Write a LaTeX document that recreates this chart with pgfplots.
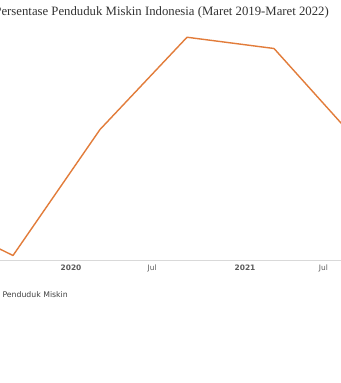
\documentclass[border=0pt]{standalone}
\usepackage{pgfplots}
\pgfplotsset{compat=1.18}
\usepackage{fontspec}
\setmainfont{Liberation Serif}
\newfontfamily\uisans{DejaVu Sans}
\definecolor{lineor}{RGB}{226,124,58}
\definecolor{gridc}{RGB}{225,225,225}
\definecolor{tickc}{RGB}{90,90,90}
\begin{document}
\begin{tikzpicture}[x=1bp,y=1bp]
\useasboundingbox (0,0) rectangle (341,383);
\fill[white] (0,0) rectangle (341,383);
\node[anchor=east,inner sep=0pt,font=\fontsize{12.8}{14}\selectfont,text=black!80] at (329,371) {Persentase Penduduk Miskin Indonesia (Maret 2019-Maret 2022)};
\begin{axis}[
  at={(0bp,123bp)}, anchor=south west,
  width=341bp, height=225bp, scale only axis,
  xmin=7.103, xmax=30.62,
  ymin=9.2, ymax=10.2,
  axis y line=none,
  axis x line=bottom,
  x axis line style={draw=black!15,-},
  xtick={12,17.6,24,29.4},
  xticklabels={\textbf{2020},Jul,\textbf{2021},Jul},
  xticklabel style={font=\uisans\fontsize{7.5}{9}\selectfont, text=tickc, yshift=-1bp},
  major tick length=0pt,
  ytick={9.2,9.4,9.6,9.8,10.0,10.2},
  ymajorgrids, major grid style={draw=gridc, line width=0.7bp},
  clip=true,
]
\addplot[color=lineor, line width=1.4bp, line join=round] coordinates {
  (2,9.41) (8,9.22) (14,9.78) (20,10.19) (26,10.14) (32,9.71) (38,9.54)
};
\end{axis}
\node[anchor=east,inner sep=0pt,font=\uisans\fontsize{7.8}{9}\selectfont,text=black!75] at (68,88) {Penduduk Miskin};
\end{tikzpicture}
\end{document}
